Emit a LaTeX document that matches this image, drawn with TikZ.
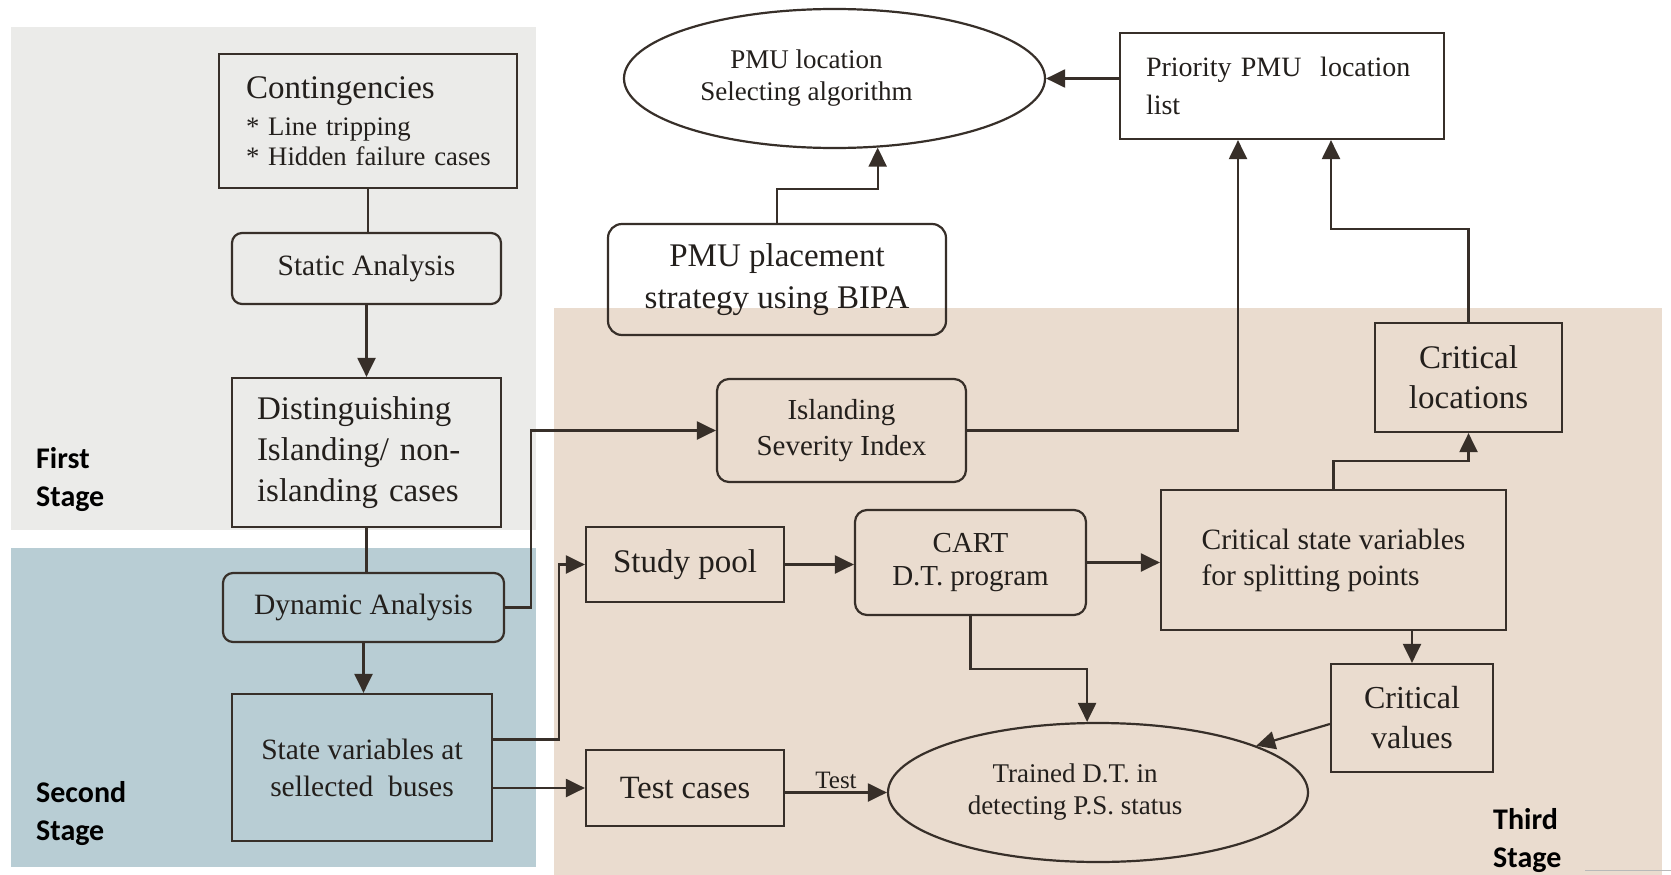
\documentclass[tikz,border=0pt]{standalone}
\usepackage{fontspec}
\setmainfont{Liberation Serif}
\newfontfamily\stagefont{Carlito}
\usepackage{xcolor}
\definecolor{colFirst}{RGB}{235,235,233}
\definecolor{colSecond}{RGB}{184,205,212}
\definecolor{colThird}{RGB}{234,220,207}
\definecolor{colLine}{RGB}{55,47,41}
\definecolor{colText}{RGB}{35,31,28}
\usepackage{tikz}
\usetikzlibrary{arrows.meta, positioning, shapes.geometric, calc}

\newcommand{\fs}[2]{\fontsize{#1}{#2}\selectfont}

\begin{document}
\begin{tikzpicture}[x=1pt, y=-1pt,
		box/.style={draw=colLine, line width=2.2pt, inner sep=0pt,
			align=center, text=colText},
		rbox/.style={box, rounded corners=10pt},
		ell/.style={box, ellipse},
		stagelbl/.style={font=\stagefont\bfseries\fs{30}{38}, align=left,
			inner sep=0pt, anchor=north west},
		ln/.style={draw=colLine, line width=2.2pt},
		arr/.style={ln, -{Triangle[length=19pt, width=18pt]}}
	]
	\useasboundingbox (0,0) rectangle (1671,875);
	\fill[white] (0,0) rectangle (1671,875);

	% ===== Stage backgrounds =====
	\fill[colFirst]  (11,27)   rectangle (536,530);
	\fill[colSecond] (11,548)  rectangle (536,867);
	\fill[colThird]  (554,308) rectangle (1662,875);
	\draw[gray!55, line width=1pt] (1585,870) -- (1671,870);

	\node[stagelbl] (first)  at (36,447)   {First\\Stage};
	\node[stagelbl] (second) at (36,781)   {Second\\Stage};
	\node[stagelbl] (third)  at (1493,808) {Third\\Stage};

	% ===== First stage =====
	\node[box, align=left, inner xsep=27pt, text width=244pt,
		minimum height=134pt, font=\fs{26.7}{30}] (cont) at (368,121)
		{\fs{33}{37}Contingencies\par\vspace{7pt}\fs{26.7}{30}\mbox{* Line tripping}\\\mbox{* Hidden failure cases}};
	\node[rbox, minimum width=269pt, minimum height=71pt, font=\fs{29.5}{35}]
		(stat) at (366.5,268.5) {Static Analysis};
	\node[box, align=left, inner xsep=25pt, text width=219pt,
		minimum height=149pt, font=\fs{33}{41}] (dist) at (366.5,452.5)
		{Distinguishing\\Islanding/ non-\\islanding cases};

	% ===== Second stage =====
	\node[rbox, minimum width=281pt, minimum height=69pt, font=\fs{29.5}{35}]
		(dyn) at (363.5,607.5) {Dynamic Analysis};
	\node[box, minimum width=260pt, minimum height=147pt, font=\fs{29.5}{37}]
		(svar) at (362,767.5) {State variables at\\sellected\ \ buses};

	% ===== PMU side (top) =====
	\node[ell, minimum width=421pt, minimum height=139pt, font=\fs{27}{32}]
		(pmualg) at (834.5,78.5) {PMU location\kern56pt\\Selecting algorithm\kern56pt};
	\node[box, rounded corners=14pt, minimum width=338pt, minimum height=111pt,
		font=\fs{33}{42}] (bipa) at (777,279.5) {PMU placement\\strategy using BIPA};
	\node[box, align=left, inner xsep=26pt, text width=272pt,
		minimum height=106pt, font=\fs{28}{38}] (prio) at (1282,86)
		{Priority PMU\ \ location\\list};

	% ===== Third stage =====
	\node[rbox, rounded corners=12pt, minimum width=249pt, minimum height=103pt,
		font=\fs{29}{36}] (isi) at (841.5,430.5) {Islanding\\Severity Index};
	\node[box, minimum width=198pt, minimum height=75pt, font=\fs{33}{40}]
		(study) at (685,564.5) {Study pool};
	\node[rbox, rounded corners=12pt, minimum width=231pt, minimum height=105pt,
		font=\fs{29}{33}] (cart) at (970.5,562.5) {CART\\D.T. program};
	\node[box, minimum width=198pt, minimum height=76pt, font=\fs{32.5}{40}]
		(test) at (685,788) {Test cases};
	\node[ell, minimum width=420pt, minimum height=139pt, font=\fs{27}{32}]
		(trained) at (1098,792.5) {Trained D.T. in\kern46pt\\detecting P.S. status\kern46pt};
	\node[box, align=left, minimum width=345pt, minimum height=140pt,
		font=\fs{29.5}{36}] (cvar) at (1333.5,560)
		{Critical state variables\\for splitting points};
	\node[box, minimum width=187pt, minimum height=109pt, font=\fs{33}{40}]
		(cloc) at (1468.5,377.5) {Critical\\locations};
	\node[box, minimum width=162pt, minimum height=108pt, font=\fs{32}{40}]
		(cval) at (1412,718) {Critical\\values};

	% ===== Connectors, first and second stage =====
	\draw[ln]  (cont.south) -- (cont.south |- stat.north);
	\draw[arr] (stat.south) -- (stat.south |- dist.north);
	\draw[ln]  (dist.south) -- (dist.south |- dyn.north);
	\draw[arr] (dyn.south) -- (dyn.south |- svar.north);
	\draw[arr] (dyn.east) -- ++(26,0) |- (isi.west);
	\draw[arr] ([yshift=28pt]svar.east) -- ++(66,0) |- (study.west);
	\draw[arr] (svar.east |- test.west) -- (test.west);

	% ===== Connectors, third stage =====
	\draw[arr] (study.east) -- (study.east -| cart.west);
	\draw[arr] (cart.east) -- (cart.east -| cvar.west);
	\draw[arr] (cart.south) -- ++(0,53) -| (trained.north -| cart.east);
	\draw[arr] (test.east |- trained.west) --
		node[above=1pt, inner sep=2pt, font=\fs{25}{30}, text=colText] (testlbl) {Test}
		(trained.west);
	\draw[arr] (cvar.south -| cval.north) -- (cval.north);
	\draw[arr] ([yshift=-6pt]cval.west) -- (trained);
	\draw[arr] (cvar.north) -- ++(0,-28) -| (cloc.south);
	\draw[arr] (cloc.north) -- ++(0,-93) -| ([xshift=49pt]prio.south);
	\draw[arr] (isi.east) -| ([xshift=-44pt]prio.south);
	\draw[arr] (pmualg.east -| prio.west) -- (pmualg.east);
	\draw[arr] (bipa.north) -- ++(0,-34) -| (pmualg.-58.6);
\end{tikzpicture}
\end{document}
